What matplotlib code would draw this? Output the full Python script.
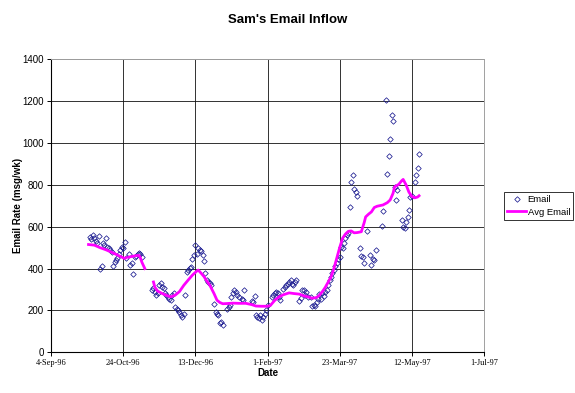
import datetime as dt
import numpy as np
import matplotlib
matplotlib.use("Agg")
import matplotlib.pyplot as plt
from matplotlib.lines import Line2D

# ---- data (days after 4-Sep-1996, msgs/wk) ----
start_date = dt.date(1996, 9, 4)
end_date = dt.date(1997, 7, 1)

email_day = [27, 28, 29, 30, 31, 32, 33, 34, 35, 36, 37, 38, 39, 40, 41, 42, 43, 44, 45, 46,
             47, 48, 49, 50, 51, 52,
             54, 55, 56, 57, 58, 59, 60, 61, 62, 63,
             70, 71, 72, 73, 74, 75, 76, 77, 78, 79, 80, 81, 82, 83, 84, 85, 86, 87, 88, 89,
             90, 91, 92, 93, 94, 95, 96, 97, 98, 99, 100, 101, 102, 103, 104, 105, 106, 107,
             108, 109, 110, 111, 113, 114, 115, 116, 117, 118, 119,
             122, 123, 124, 125, 126, 127, 128, 129, 130, 132, 133, 134, 139, 140, 141, 142,
             143, 144, 145, 146, 147, 148, 149, 150, 153, 154, 155, 156, 157, 158, 159, 161,
             162, 163, 164, 165, 166, 167, 168, 169, 170,
             172, 173, 174, 175, 176, 177, 178, 180, 181, 182, 183, 184, 185, 186, 187, 188,
             189, 190, 191, 192, 193, 194, 195, 196, 197, 198, 199, 200, 201, 202, 203, 204,
             205, 206, 207, 208, 209, 210, 211, 212, 214, 215, 216, 217, 219, 221, 222, 223,
             224, 225, 229, 230, 232, 233, 234, 235, 236, 237, 238, 239, 240, 243, 244, 245,
             246, 247, 248, 249, 250, 252, 253, 254, 255]
email_val = [550, 540, 560, 545, 530, 520, 555, 400, 410, 520, 515, 545, 505, 500, 490, 480,
             410, 430, 440, 450, 470, 490, 505, 500, 525, 450,
             470, 415, 425, 375, 455, 460, 470, 475, 470, 455,
             300, 305, 290, 275, 282, 320, 330, 312, 305, 282, 273, 265, 257, 249, 273, 281,
             217, 209, 201, 193, 178, 168, 185, 273, 384, 393, 401, 409, 448, 463, 512, 472,
             496, 489, 485, 463, 437, 377,
             345, 337, 329, 321, 233, 193, 185, 178, 138, 146, 130,
             209, 217, 226, 265, 281, 297, 289, 273, 265, 257, 249, 297, 245, 242, 270, 178,
             170, 162, 178, 154, 170, 185, 201, 226, 265, 273, 281, 289, 281, 265, 249, 304,
             312, 320, 328, 336, 344, 328, 320, 336, 344,
             247, 258, 300, 297, 273, 289, 265, 265, 221, 226, 223, 241, 257, 277, 253, 281,
             269, 289, 297, 320, 344, 361, 377, 393, 412, 425, 446, 457, 505, 497, 521, 545,
             561, 569, 693, 814, 849, 782, 766, 746, 500, 460, 456, 427, 579, 463, 416, 448,
             440, 489, 604, 676, 1205, 854, 939, 1020, 1133, 1104, 791, 730, 774, 632, 599, 596,
             624, 647, 678, 740, 746, 815, 849, 883, 947]

nan = float("nan")
avg_day = [26, 30, 34, 38, 42, 46, 49, 51, 52, 53,
           54, 56, 59, 61, 62, 63, 65, 67,
           71, 72, 74, 77, 80, 83, 86, 89, 92, 95, 98, 101, 102, 104, 106, 108, 110, 113,
           115, 117, 119, 122, 126, 130, 135, 139, 142, 146, 150, 152, 155, 158, 161, 165,
           168, 172, 175, 178, 181, 184, 186, 188, 190, 192, 194, 196, 198, 200, 202, 204,
           206, 208, 210, 212, 215, 217, 218, 220, 222, 224, 226, 230, 233, 235, 237, 238,
           241, 243, 244, 246, 248, 250, 252, 254, 255]
avg_val = [515, 512, 500, 490, 478, 465, 455, 448, 452, nan,
           455, 458, 462, 463, 450, 430, 400, nan,
           336, 310, 292, 281, 272, 265, 273, 290, 320, 345, 369, 388, 393, 378, 362, 340,
           321, 280, 249, 238, 232, 233, 235, 234, 234, 228, 221, 220, 220, 224, 248, 265,
           275, 284, 281, 278, 270, 265, 258, 262, 273, 290, 310, 335, 360, 400, 450, 500,
           545, 565, 578, 580, 571, 572, 576, 620, 647, 660, 671, 692, 698, 704, 715, 728,
           760, 790, 803, 820, 826, 800, 765, 745, 738, 742, 748]

tick_step_days = 50
y_max = 1400
y_step = 200

# ---- figure ----
fig = plt.figure(figsize=(5.75, 3.93), dpi=100)
ax = fig.add_axes([51 / 575, 1 - 352.3 / 393, (484 - 51) / 575, (352.3 - 59.3) / 393])

email_dates = [start_date + dt.timedelta(days=d) for d in email_day]
avg_dates = [start_date + dt.timedelta(days=d) for d in avg_day]

mk = dict(linestyle="none", marker="D", markersize=2.8, markerfacecolor="none",
          markeredgecolor="#1a1a90", markeredgewidth=0.55)
ax.plot(email_dates, email_val, label="Email", zorder=3, **mk)
ax.plot(avg_dates, avg_val, color="#FF00FF", linewidth=2.0, label="Avg Email", zorder=4)

ax.set_xlim(start_date, end_date)
ax.set_ylim(0, y_max)
xt = [start_date + dt.timedelta(days=k) for k in range(0, (end_date - start_date).days + 1, tick_step_days)]
ax.set_xticks(xt)
ax.set_xticklabels([f"{d.day}-{d.strftime('%b-%y')}" for d in xt],
                   fontfamily="Liberation Serif", fontsize=6)
ax.set_yticks(np.arange(0, y_max + 1, y_step))
for lab in ax.get_yticklabels():
    lab.set_fontfamily("Liberation Sans")
    lab.set_fontsize(7)

ax.grid(True, color="#111111", linewidth=0.6, zorder=0)
ax.tick_params(direction="out", length=3, width=0.7, pad=2, colors="#000000")
for side in ["top", "right"]:
    ax.spines[side].set_color("#a0a0a0")
    ax.spines[side].set_linewidth(0.7)
for side in ["left", "bottom"]:
    ax.spines[side].set_color("#000000")
    ax.spines[side].set_linewidth(0.8)
ax.set_axisbelow(True)

fig.text(0.5, 1 - 20 / 393, "Sam's Email Inflow", ha="center", va="center",
         fontsize=9.5, fontweight="bold", fontfamily="Liberation Sans")
fig.text(268 / 575, 1 - 373 / 393, "Date", ha="center", va="center",
         fontsize=7, fontweight="bold", fontfamily="Liberation Sans")
fig.text(18 / 575, 1 - 205 / 393, "Email Rate (msg/wk)", ha="center", va="center",
         rotation=90, fontsize=7, fontweight="bold", fontfamily="Liberation Sans")

handles = [Line2D([], [], **mk), Line2D([], [], color="#FF00FF", linewidth=2.0)]
leg = fig.legend(handles, ["Email", "Avg Email"], loc="center left",
                 bbox_to_anchor=(504 / 575, 1 - 206 / 393),
                 prop={"family": "Liberation Sans", "size": 6.8},
                 frameon=True, fancybox=False, handlelength=2.0, handletextpad=0.15,
                 borderpad=0.35, labelspacing=0.35, borderaxespad=0)
leg.get_frame().set_edgecolor("#000000")
leg.get_frame().set_linewidth(0.7)

fig.savefig("out.png", dpi=100)
